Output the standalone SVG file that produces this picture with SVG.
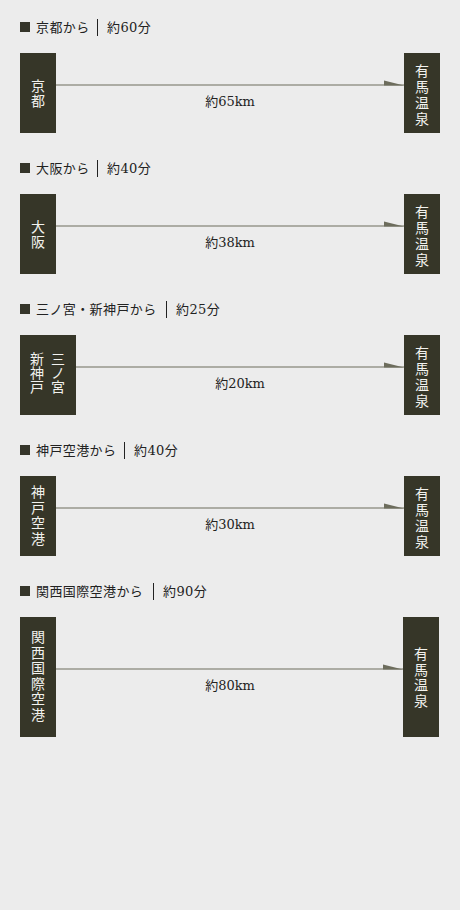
<svg xmlns="http://www.w3.org/2000/svg" width="460" height="910" viewBox="0 0 460 910">
<style>
.hd{font-family:"DejaVu Serif","Noto Sans CJK JP",serif;font-size:13px;fill:#222;letter-spacing:0.4px}
.sq{fill:#35352a}
.dv{stroke:#222;stroke-width:1}
.box{fill:#363628}
.bt{font-family:"Liberation Serif","Noto Sans CJK JP",serif;font-size:14px;fill:#f2f2ee;text-anchor:middle}
.ln{stroke:#6c6c5c;stroke-width:1.2;fill:none}
.ah{fill:#6c6c5c}
.lb{font-family:"DejaVu Serif","Noto Sans CJK JP",serif;font-size:13px;fill:#222;text-anchor:middle}
</style>
<rect width="460" height="910" fill="#ececec"/>

<!-- Headers -->
<g id="h1"><rect class="sq" x="20" y="22" width="10" height="10"/><text class="hd" x="36" y="32">京都から</text><line class="dv" x1="97.5" y1="19" x2="97.5" y2="36"/><text class="hd" x="107" y="32">約60分</text></g>
<g id="h2"><rect class="sq" x="20" y="163" width="10" height="10"/><text class="hd" x="36" y="173">大阪から</text><line class="dv" x1="97.5" y1="160" x2="97.5" y2="177"/><text class="hd" x="107" y="173">約40分</text></g>
<g id="h3"><rect class="sq" x="20" y="304" width="10" height="10"/><text class="hd" x="36" y="314">三ノ宮・新神戸から</text><line class="dv" x1="166.5" y1="301" x2="166.5" y2="318"/><text class="hd" x="176" y="314">約25分</text></g>
<g id="h4"><rect class="sq" x="20" y="445" width="10" height="10"/><text class="hd" x="36" y="455">神戸空港から</text><line class="dv" x1="124.5" y1="442" x2="124.5" y2="459"/><text class="hd" x="134" y="455">約40分</text></g>
<g id="h5"><rect class="sq" x="20" y="586" width="10" height="10"/><text class="hd" x="36" y="596">関西国際空港から</text><line class="dv" x1="153.5" y1="583" x2="153.5" y2="600"/><text class="hd" x="163" y="596">約90分</text></g>

<!-- Connectors -->
<g id="connectors">
<line class="ln" x1="56" y1="85" x2="404" y2="85"/><polygon class="ah" points="384,80.5 404,85.6 384,85.6"/>
<text class="lb" x="230" y="106">約65km</text>
<line class="ln" x1="56" y1="226" x2="404" y2="226"/><polygon class="ah" points="384,221.5 404,226.6 384,226.6"/>
<text class="lb" x="230" y="247">約38km</text>
<line class="ln" x1="76" y1="367" x2="404" y2="367"/><polygon class="ah" points="384,362.5 404,367.6 384,367.6"/>
<text class="lb" x="240" y="388">約20km</text>
<line class="ln" x1="56" y1="508" x2="404" y2="508"/><polygon class="ah" points="384,503.5 404,508.6 384,508.6"/>
<text class="lb" x="230" y="529">約30km</text>
<line class="ln" x1="56" y1="669" x2="403" y2="669"/><polygon class="ah" points="383,664.5 403,669.6 383,669.6"/>
<text class="lb" x="230" y="690">約80km</text>
</g>

<!-- Nodes -->
<g id="kyoto"><rect class="box" x="20" y="53" width="36" height="80"/>
<text class="bt"><tspan x="38" y="90.5">京</tspan><tspan x="38" y="106">都</tspan></text></g>
<g id="arima1"><rect class="box" x="404" y="53" width="36" height="80"/>
<text class="bt"><tspan x="422" y="75.5">有</tspan><tspan x="422" y="91.5">馬</tspan><tspan x="422" y="107.5">温</tspan><tspan x="422" y="123.5">泉</tspan></text></g>

<g id="osaka"><rect class="box" x="20" y="194" width="36" height="80"/>
<text class="bt"><tspan x="38" y="231.5">大</tspan><tspan x="38" y="247">阪</tspan></text></g>
<g id="arima2"><rect class="box" x="404" y="194" width="36" height="80"/>
<text class="bt"><tspan x="422" y="216.5">有</tspan><tspan x="422" y="232.5">馬</tspan><tspan x="422" y="248.5">温</tspan><tspan x="422" y="264.5">泉</tspan></text></g>

<g id="sannomiya"><rect class="box" x="20" y="335" width="56" height="80"/>
<text class="bt"><tspan x="58" y="364">三</tspan><tspan x="58" y="378">ノ</tspan><tspan x="58" y="392">宮</tspan></text>
<text class="bt"><tspan x="37" y="364">新</tspan><tspan x="37" y="378">神</tspan><tspan x="37" y="392">戸</tspan></text></g>
<g id="arima3"><rect class="box" x="404" y="335" width="36" height="80"/>
<text class="bt"><tspan x="422" y="357.5">有</tspan><tspan x="422" y="373.5">馬</tspan><tspan x="422" y="389.5">温</tspan><tspan x="422" y="405.5">泉</tspan></text></g>

<g id="kobe-airport"><rect class="box" x="20" y="476" width="36" height="80"/>
<text class="bt"><tspan x="38" y="497">神</tspan><tspan x="38" y="512.5">戸</tspan><tspan x="38" y="528">空</tspan><tspan x="38" y="543.5">港</tspan></text></g>
<g id="arima4"><rect class="box" x="404" y="476" width="36" height="80"/>
<text class="bt"><tspan x="422" y="498.5">有</tspan><tspan x="422" y="514.5">馬</tspan><tspan x="422" y="530.5">温</tspan><tspan x="422" y="546.5">泉</tspan></text></g>

<g id="kansai-airport"><rect class="box" x="20" y="617" width="36" height="120"/>
<text class="bt"><tspan x="38" y="642">関</tspan><tspan x="38" y="657.6">西</tspan><tspan x="38" y="673.2">国</tspan><tspan x="38" y="688.8">際</tspan><tspan x="38" y="704.4">空</tspan><tspan x="38" y="720">港</tspan></text></g>
<g id="arima5"><rect class="box" x="403" y="617" width="36" height="120"/>
<text class="bt"><tspan x="421" y="659">有</tspan><tspan x="421" y="674.5">馬</tspan><tspan x="421" y="690">温</tspan><tspan x="421" y="705.5">泉</tspan></text></g>
</svg>
